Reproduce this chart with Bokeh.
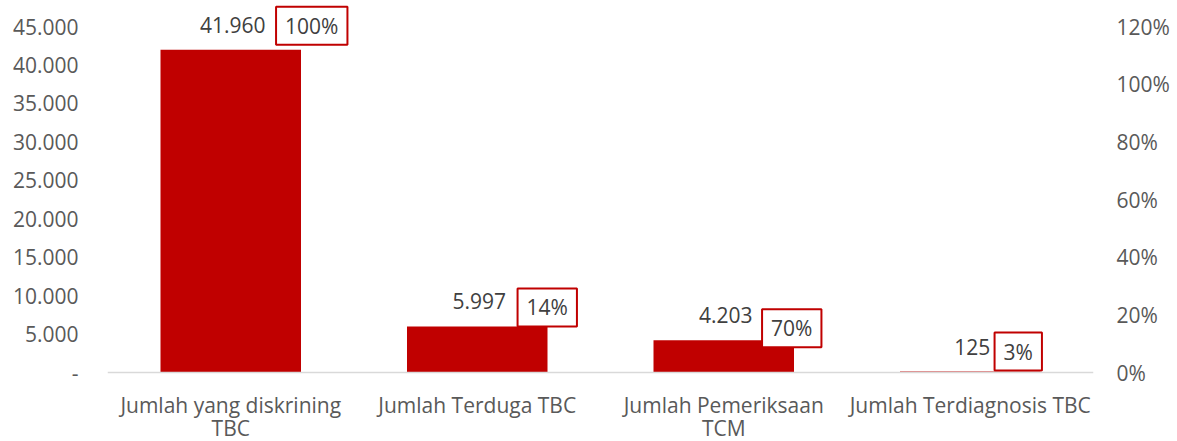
from bokeh.plotting import figure
from bokeh.models import ColumnDataSource, Range1d, LinearAxis, FixedTicker, Span, FactorRange
from bokeh.core.properties import value
from bokeh.embed import file_html
from bokeh.resources import INLINE

# ---- data ----
categories = ["Jumlah yang diskrining TBC", "Jumlah Terduga TBC",
              "Jumlah Pemeriksaan TCM", "Jumlah Terdiagnosis TBC"]
category_lines = ["Jumlah yang diskrining\nTBC", "Jumlah Terduga TBC",
                  "Jumlah Pemeriksaan\nTCM", "Jumlah Terdiagnosis TBC"]
counts = [41960, 5997, 4203, 125]
percents = [100, 14, 70, 3]
count_labels = ["41.960", "5.997", "4.203", "125"]
percent_labels = ["100%", "14%", "70%", "3%"]
left_ticks = [0, 5000, 10000, 15000, 20000, 25000, 30000, 35000, 40000, 45000]
left_tick_labels = ["-", "5.000", "10.000", "15.000", "20.000", "25.000",
                    "30.000", "35.000", "40.000", "45.000"]
right_ticks = [0, 20, 40, 60, 80, 100, 120]
right_tick_labels = ["0%", "20%", "40%", "60%", "80%", "100%", "120%"]

# ---- layout (pixels) ----
W, H = 1177, 441
FRAME_LEFT, FRAME_RIGHT_BORDER = 107, 84
Y0_PX, YTOP_PX = 372, 26          # screen y of 0 and of 45000
LEFT_MAX, RIGHT_MAX = 45000, 120
box_dx = [81, 70, 68, 48]          # label box offsets from bar top centre
box_dy = [-24, -19, -12, -20]

scale = (Y0_PX - YTOP_PX) / LEFT_MAX
y_start = -(H - Y0_PX) / scale
y_end = LEFT_MAX + YTOP_PX / scale

FONT = "Open Sans"
FS = "21px"
AXIS_COLOR = "#595959"
LABEL_COLOR = "#404040"
RED = "#C00000"

src = ColumnDataSource(dict(cat=categories, lines=category_lines, counts=counts,
                            zero=[0] * len(categories), clab=count_labels,
                            plab=percent_labels, pct=percents, dx=box_dx, dy=box_dy))

p = figure(x_range=FactorRange(*categories, range_padding=0),
           y_range=Range1d(y_start, y_end),
           width=W, height=H, output_backend="svg", toolbar_location=None,
           min_border_left=FRAME_LEFT, min_border_right=FRAME_RIGHT_BORDER,
           min_border_top=0, min_border_bottom=0,
           x_axis_location=None, outline_line_color=None,
           background_fill_color="white", border_fill_color="white")
p.grid.visible = False

yl = p.yaxis[0]
yl.ticker = FixedTicker(ticks=left_ticks)
yl.major_label_overrides = dict(zip(left_ticks, left_tick_labels))

p.extra_y_ranges = {"pct": Range1d(y_start * RIGHT_MAX / LEFT_MAX, y_end * RIGHT_MAX / LEFT_MAX)}
yr = LinearAxis(y_range_name="pct", ticker=FixedTicker(ticks=right_ticks))
yr.major_label_overrides = dict(zip(right_ticks, right_tick_labels))
p.add_layout(yr, "right")

for ax, standoff in ((yl, 29), (yr, 23)):
    ax.axis_line_color = None
    ax.major_tick_line_color = None
    ax.minor_tick_line_color = None
    ax.major_tick_in = 0
    ax.major_tick_out = 0
    ax.major_label_standoff = standoff
    ax.major_label_text_font = FONT
    ax.major_label_text_font_size = FS
    ax.major_label_text_color = AXIS_COLOR

p.vbar(x="cat", top="counts", width=0.57, source=src, fill_color=RED, line_color=None)
p.add_layout(Span(location=0, dimension="width", line_color="#D9D9D9", line_width=1.5))

p.text(x="cat", y="counts", text="clab", source=src, x_offset=2, y_offset=-25,
       text_align="center", text_baseline="middle", text_font=value(FONT),
       text_font_size=FS, text_color=LABEL_COLOR)

p.text(x="cat", y="counts", text="plab", source=src, x_offset="dx", y_offset="dy",
       text_align="center", text_baseline="middle", text_font=value(FONT),
       text_font_size=FS, text_color=LABEL_COLOR,
       border_line_color=RED, border_line_width=2, background_fill_color="white",
       padding=(9, 5))

p.text(x="cat", y="zero", text="lines", source=src, y_offset=18,
       text_align="center", text_baseline="top", text_font=value(FONT),
       text_font_size=FS, text_color=AXIS_COLOR, text_line_height=0.84)

open("out.html", "w").write(file_html(p, INLINE))
